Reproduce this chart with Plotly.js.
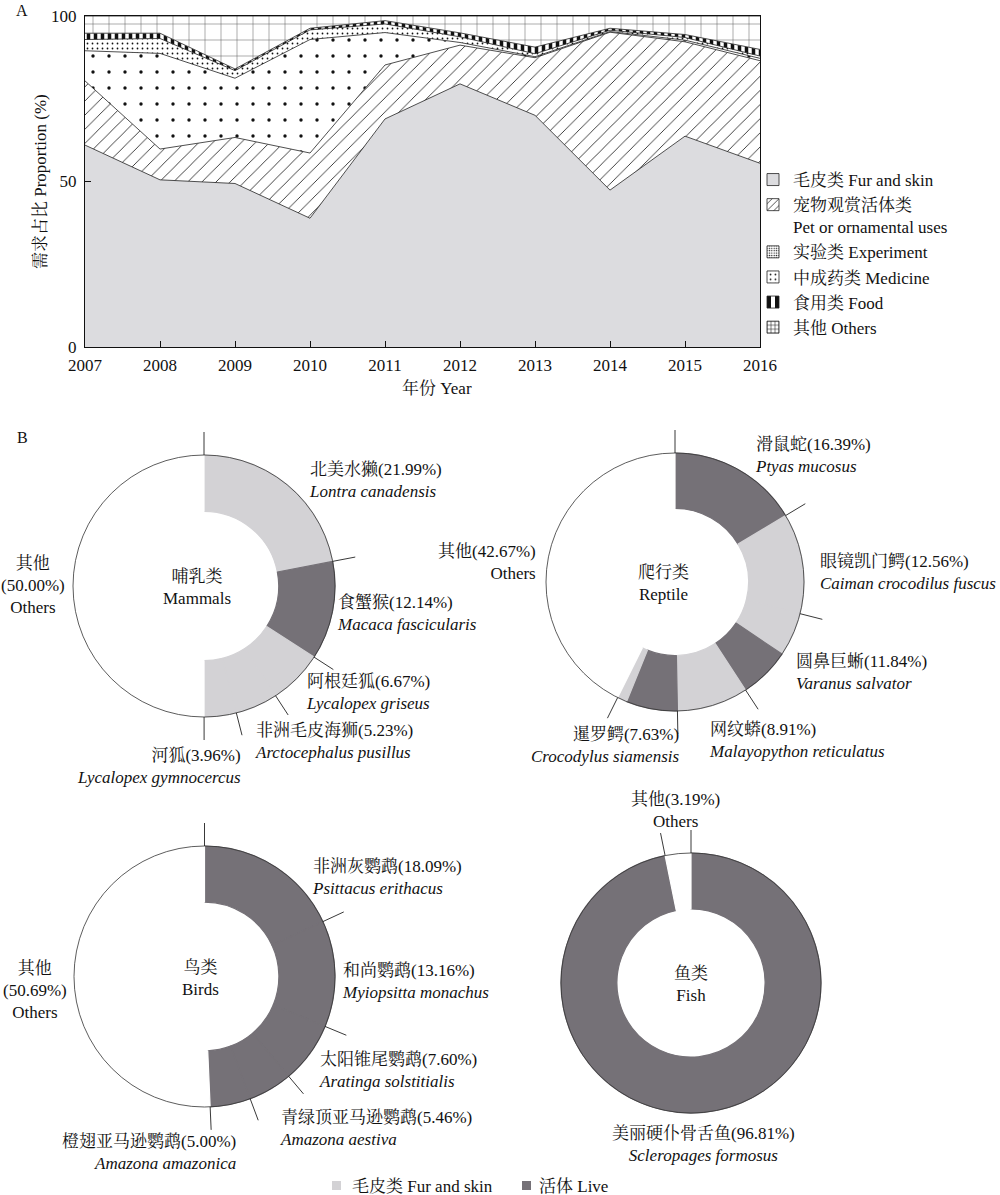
<!DOCTYPE html>
<html><head><meta charset="utf-8">
<script src="https://cdn.plot.ly/plotly-3.0.1.min.js"></script>
<style>body{margin:0;background:#fff}#chart{width:1000px;height:1195px}</style>
</head><body><div id="chart"></div>
<script>
// ---------- Panel A data ----------
const years = [2007, 2008, 2009, 2010, 2011, 2012, 2013, 2014, 2015, 2016];
const furShare        = [61.0, 50.5, 49.4, 38.9, 68.9, 79.5, 70.0, 47.4, 63.7, 55.5];
const petShare        = [19.4,  9.3, 13.9, 19.7, 16.3, 11.7, 17.4, 47.7, 28.5, 31.0];
const experimentShare = [ 9.1, 28.9, 17.9, 34.3,  9.8,  0.8,  0.3,  0.2,  0.5,  0.7];
const medicineShare   = [ 3.4,  4.5,  2.3,  2.9,  2.6,  1.7,  0.9,  0.4,  0.8,  0.7];
const foodShare       = [ 1.9,  1.6,  0.5,  0.5,  1.0,  1.2,  2.0,  0.6,  0.9,  2.0];
const othersShare     = [ 5.2,  5.2, 16.0,  3.7,  1.4,  5.1,  9.4,  3.7,  5.6, 10.1];
const areaNames = ['毛皮类 Fur and skin', '宠物观赏活体类<br>Pet or ornamental uses', '实验类 Experiment',
                   '中成药类 Medicine', '食用类 Food', '其他 Others'];
const yTicks = [0, 50, 100];

// ---------- Panel B data ----------
const mammalSpecies = ['北美水獭', '食蟹猴', '阿根廷狐', '非洲毛皮海狮', '河狐'];
const mammalLatin   = ['Lontra canadensis', 'Macaca fascicularis', 'Lycalopex griseus', 'Arctocephalus pusillus', 'Lycalopex gymnocercus'];
const mammalPct     = [21.99, 12.14, 6.67, 5.23, 3.96];
const mammalOthers  = 50.00;
const mammalSegLabels = ['北美水獭', '食蟹猴', '阿根廷狐', '非洲毛皮海狮', '河狐', '其他'];
const mammalSegValues = [21.99, 12.14, 6.67, 5.23, 3.96, 50.00];
const mammalSegTypes  = ['fur', 'live', 'fur', 'fur', 'fur', 'other'];

const reptileSpecies = ['滑鼠蛇', '眼镜凯门鳄', '圆鼻巨蜥', '网纹蟒', '暹罗鳄'];
const reptileLatin   = ['Ptyas mucosus', 'Caiman crocodilus fuscus', 'Varanus salvator', 'Malayopython reticulatus', 'Crocodylus siamensis'];
const reptilePct     = [16.39, 12.56, 11.84, 8.91, 7.63];
const reptileOthers  = 42.67;
const reptileSegLabels = ['滑鼠蛇 活体', '眼镜凯门鳄 毛皮', '圆鼻巨蜥 毛皮', '圆鼻巨蜥 活体', '网纹蟒 毛皮', '暹罗鳄 活体', '暹罗鳄 毛皮', '其他'];
const reptileSegValues = [16.39, 12.56, 5.49, 6.35, 8.91, 6.42, 1.21, 42.67];
const reptileSegTypes  = ['live', 'fur', 'fur', 'live', 'fur', 'live', 'fur', 'other'];

const birdSpecies = ['非洲灰鹦鹉', '和尚鹦鹉', '太阳锥尾鹦鹉', '青绿顶亚马逊鹦鹉', '橙翅亚马逊鹦鹉'];
const birdLatin   = ['Psittacus erithacus', 'Myiopsitta monachus', 'Aratinga solstitialis', 'Amazona aestiva', 'Amazona amazonica'];
const birdPct     = [18.09, 13.16, 7.60, 5.46, 5.00];
const birdOthers  = 50.69;
const birdSegLabels = ['非洲灰鹦鹉', '和尚鹦鹉', '太阳锥尾鹦鹉', '青绿顶亚马逊鹦鹉', '橙翅亚马逊鹦鹉', '其他'];
const birdSegValues = [18.09, 13.16, 7.60, 5.46, 5.00, 50.69];
const birdSegTypes  = ['live', 'live', 'live', 'live', 'live', 'other'];

const fishSpecies = ['美丽硬仆骨舌鱼'];
const fishLatin   = ['Scleropages formosus'];
const fishPct     = [96.81];
const fishOthers  = 3.19;
const fishSegLabels = ['美丽硬仆骨舌鱼', '其他'];
const fishSegValues = [96.81, 3.19];
const fishSegTypes  = ['live', 'other'];

// ---------- styling ----------
const W = 1000, H = 1195;
const FONT = '"Liberation Serif", "Times New Roman", "Noto Serif CJK SC", "Noto Sans CJK SC", serif';
const FS = 17;
const FUR_AREA = '#dcdcdf', FUR_PIE = '#d3d2d5', LIVE = '#757177';
const px = x => x / W, py = y => (H - y) / H;
const colorOf = t => t === 'fur' ? FUR_PIE : (t === 'live' ? LIVE : '#ffffff');

const patterns = [
  null,
  {shape: '/', size: 10, solidity: 0.08},
  {shape: '.', size: 16, solidity: 0.035},
  {shape: '.', size: 5, solidity: 0.1},
  {shape: '|', size: 7, solidity: 0.5},
  {shape: '+', size: 16, solidity: 0.06}
];
const legendPatterns = [
  null,
  {shape: '/', size: 6, solidity: 0.15},
  {shape: '.', size: 3, solidity: 0.25},
  {shape: '.', size: 6, solidity: 0.1},
  {shape: '|', size: 12, solidity: 0.5},
  {shape: '+', size: 5, solidity: 0.25}
];
const series = [furShare, petShare, experimentShare, medicineShare, foodShare, othersShare];

const traces = [];
series.forEach((ys, i) => {
  const t = {
    type: 'scatter', mode: 'lines', x: years, y: ys, stackgroup: 'A',
    line: {color: '#222', width: 0.8}, showlegend: false, hoverinfo: 'skip'
  };
  if (i === 0) { t.fillcolor = FUR_AREA; }
  else {
    t.fillcolor = '#ffffff';
    t.fillpattern = Object.assign({fgcolor: i === 5 ? '#555' : '#111', bgcolor: '#ffffff', fillmode: 'replace'}, patterns[i]);
  }
  traces.push(t);
});
// legend keys for panel A (placeholder entries, no drawn bars)
series.forEach((ys, i) => {
  const m = {color: i === 0 ? FUR_AREA : '#ffffff', line: {color: '#222', width: 0.8}};
  if (i > 0) m.pattern = Object.assign({fgcolor: '#111', bgcolor: '#ffffff', fillmode: 'replace'}, legendPatterns[i]);
  traces.push({type: 'bar', x: [years[0]], y: [null], name: areaNames[i], marker: m, showlegend: true, hoverinfo: 'skip'});
});

// ---------- pies ----------
const pies = [
  {cx: 204, cy: 586, R: 131, labels: mammalSegLabels, values: mammalSegValues, types: mammalSegTypes, pct: mammalPct,
   center: '哺乳类<br>Mammals', ctr: [197, 587]},
  {cx: 675, cy: 582, R: 129, labels: reptileSegLabels, values: reptileSegValues, types: reptileSegTypes, pct: reptilePct,
   center: '爬行类<br>Reptile', ctr: [663, 583]},
  {cx: 204.5, cy: 976.5, R: 130.5, labels: birdSegLabels, values: birdSegValues, types: birdSegTypes, pct: birdPct,
   center: '鸟类<br>Birds', ctr: [200, 978]},
  {cx: 691, cy: 983, R: 130, labels: fishSegLabels, values: fishSegValues, types: fishSegTypes, pct: fishPct,
   center: '鱼类<br>Fish', ctr: [691, 984]}
];
const shapes = [];
const annotations = [];
const HOLE = 0.57, LEAD = 23;
pies.forEach(p => {
  const cols = p.types.map(colorOf);
  traces.push({
    type: 'pie', labels: p.labels, values: p.values, sort: false, direction: 'clockwise', rotation: 0,
    hole: HOLE, textinfo: 'none', hoverinfo: 'skip', showlegend: false,
    marker: {colors: cols, line: {color: cols, width: 1.2}},
    domain: {x: [px(p.cx - p.R), px(p.cx + p.R)], y: [py(p.cy + p.R), py(p.cy - p.R)]}
  });
  shapes.push({type: 'circle', xref: 'paper', yref: 'paper', x0: px(p.cx - p.R), x1: px(p.cx + p.R),
    y0: py(p.cy + p.R), y1: py(p.cy - p.R), line: {color: '#333', width: 0.8}});
  // leader ticks at species boundaries
  let cum = 0;
  const bounds = [0];
  p.pct.forEach(v => { cum += v; bounds.push(cum); });
  bounds.forEach(b => {
    const th = b / 100 * 2 * Math.PI;
    const s = Math.sin(th), c = Math.cos(th);
    shapes.push({type: 'line', xref: 'paper', yref: 'paper',
      x0: px(p.cx + p.R * s), y0: py(p.cy - p.R * c),
      x1: px(p.cx + (p.R + LEAD) * s), y1: py(p.cy - (p.R + LEAD) * c),
      line: {color: '#222', width: 0.9}});
  });
  annotations.push({xref: 'paper', yref: 'paper', x: px(p.ctr[0]), y: py(p.ctr[1]), text: p.center,
    showarrow: false, xanchor: 'center', yanchor: 'middle', align: 'center', font: {size: FS}});
});

// species labels (positions of text boxes)
function spLabel(name, latin, pct, x, y, anchor) {
  annotations.push({xref: 'paper', yref: 'paper', x: px(x), y: py(y),
    text: name + '(' + pct.toFixed(2) + '%)<br><i>' + latin + '</i>',
    showarrow: false, xanchor: anchor, yanchor: 'middle', align: anchor, font: {size: FS}});
}
const mammalPos = [[307, 480, 'left'], [335, 614, 'left'], [304, 692, 'left'], [253, 741, 'left'], [243, 766, 'right']];
mammalSpecies.forEach((n, i) => spLabel(n, mammalLatin[i], mammalPct[i], ...mammalPos[i]));
const reptilePos = [[753, 456, 'left'], [818, 572, 'left'], [794, 672, 'left'], [707, 740, 'left'], [682, 745, 'right']];
reptileSpecies.forEach((n, i) => spLabel(n, reptileLatin[i], reptilePct[i], ...reptilePos[i]));
const birdPos = [[310, 877, 'left'], [340, 981, 'left'], [317, 1070, 'left'], [278, 1128, 'left'], [238, 1152, 'right']];
birdSpecies.forEach((n, i) => spLabel(n, birdLatin[i], birdPct[i], ...birdPos[i]));
spLabel(fishSpecies[0], fishLatin[0], fishPct[0], 703, 1144, 'center');

function otherLabel(text, x, y, anchor) {
  annotations.push({xref: 'paper', yref: 'paper', x: px(x), y: py(y), text: text, showarrow: false,
    xanchor: anchor, yanchor: 'middle', align: anchor, font: {size: FS}});
}
otherLabel('其他<br>(' + mammalOthers.toFixed(2) + '%)<br>Others', 33, 585, 'center');
otherLabel('其他(' + reptileOthers.toFixed(2) + '%)<br>Others', 538, 562, 'right');
otherLabel('其他<br>(' + birdOthers.toFixed(2) + '%)<br>Others', 35, 990, 'center');
otherLabel('其他(' + fishOthers.toFixed(2) + '%)<br>Others', 675, 810, 'center');

// axis titles and panel letters
annotations.push({xref: 'paper', yref: 'paper', x: px(437), y: py(388), text: '年份 Year', showarrow: false,
  xanchor: 'center', yanchor: 'middle', font: {size: FS}});
annotations.push({xref: 'paper', yref: 'paper', x: px(41), y: py(182), text: '需求占比 Proportion (%)', showarrow: false,
  textangle: -90, xanchor: 'center', yanchor: 'middle', font: {size: FS, color: '#111'}});
annotations.push({xref: 'paper', yref: 'paper', x: px(22), y: py(0), text: 'A', showarrow: false,
  xanchor: 'center', yanchor: 'top', font: {size: 16}});
annotations.push({xref: 'paper', yref: 'paper', x: px(22), y: py(437), text: 'B', showarrow: false,
  xanchor: 'center', yanchor: 'middle', font: {size: 16}});

// bottom key for panel B
shapes.push({type: 'rect', xref: 'paper', yref: 'paper', x0: px(332), x1: px(341), y0: py(1190), y1: py(1181),
  fillcolor: FUR_PIE, line: {width: 0}});
shapes.push({type: 'rect', xref: 'paper', yref: 'paper', x0: px(522), x1: px(531), y0: py(1190), y1: py(1181),
  fillcolor: LIVE, line: {width: 0}});
annotations.push({xref: 'paper', yref: 'paper', x: px(350), y: py(1186), text: '毛皮类 Fur and skin', showarrow: false,
  xanchor: 'left', yanchor: 'middle', font: {size: FS}});
annotations.push({xref: 'paper', yref: 'paper', x: px(537), y: py(1186), text: '活体 Live', showarrow: false,
  xanchor: 'left', yanchor: 'middle', font: {size: FS}});

const layout = {
  width: W, height: H, margin: {l: 0, r: 0, t: 0, b: 0},
  paper_bgcolor: '#ffffff', plot_bgcolor: '#ffffff',
  font: {family: FONT, size: FS, color: '#111'},
  xaxis: {domain: [px(85), px(760)], range: [2007, 2016], tickvals: years, ticks: 'inside', ticklen: 6,
    tickcolor: '#111', showline: true, mirror: true, linecolor: '#111', linewidth: 1, showgrid: false,
    zeroline: false, tickfont: {size: FS}, fixedrange: true, ticklabelstandoff: 3},
  yaxis: {domain: [py(347), py(16)], range: [0, 100], tickvals: yTicks, ticks: 'inside', ticklen: 6,
    tickcolor: '#111', showline: true, mirror: true, linecolor: '#111', linewidth: 1, showgrid: false,
    zeroline: false, tickfont: {size: FS}, fixedrange: true, ticklabelstandoff: 4},
  showlegend: true,
  legend: {x: px(753), y: py(162), xanchor: 'left', yanchor: 'top', bgcolor: 'rgba(0,0,0,0)',
    traceorder: 'normal', valign: 'top', tracegroupgap: 0, font: {size: FS}},
  shapes: shapes, annotations: annotations
};
Plotly.newPlot('chart', traces, layout, {staticPlot: true, displayModeBar: false});
</script></body></html>
